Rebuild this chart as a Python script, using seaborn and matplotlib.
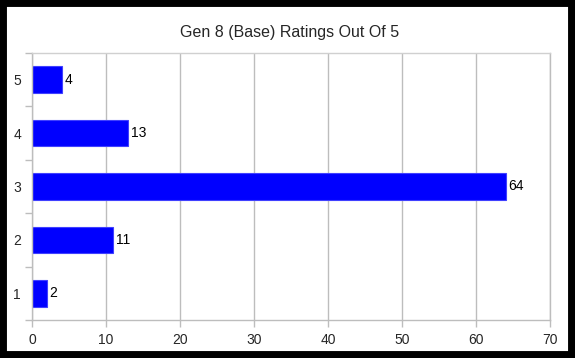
import matplotlib
matplotlib.use('Agg')
import matplotlib.pyplot as plt
import seaborn as sns
import pandas as pd
from matplotlib.patches import Rectangle

# chart data
ratings = ['5', '4', '3', '2', '1']
counts = [4, 13, 64, 11, 2]
x_ticks = [0, 10, 20, 30, 40, 50, 60, 70]
title = 'Gen 8 (Base) Ratings Out Of 5'

df = pd.DataFrame({'rating': ratings, 'count': counts})

sns.set_style('white')
plt.rcParams['font.family'] = ['Liberation Sans', 'DejaVu Sans']

fig = plt.figure(figsize=(5.75, 3.58), dpi=100)
ax = fig.add_axes([32 / 575, 1 - 320 / 358, 518 / 575, 267 / 358])

sns.barplot(data=df, x='count', y='rating', order=ratings, orient='h',
            color='#0000ff', saturation=1, width=0.5,
            edgecolor='#4040ff', linewidth=0.8, ax=ax)

ax.bar_label(ax.containers[0], labels=[str(c) for c in counts],
             padding=2, fontsize=10, color='black')

grid_c = '#bdbdbd'
ax.set_xlim(0, 70)
ax.set_xticks(x_ticks)
ax.set_ylim(4.5, -0.5)
ax.set_yticks(range(len(ratings)))
ax.set_yticks([i - 0.5 for i in range(len(ratings) + 1)], minor=True)
ax.xaxis.grid(True, color=grid_c, linewidth=1)
ax.set_axisbelow(True)
ax.tick_params(axis='x', which='major', length=5, width=1, color=grid_c,
               labelsize=10, pad=4, direction='out', bottom=True)
ax.tick_params(axis='y', which='major', length=0, labelsize=10, pad=8)
ax.tick_params(axis='y', which='minor', length=5, width=1, color=grid_c,
               direction='out', left=True)
for side in ['left', 'bottom', 'top', 'right']:
    ax.spines[side].set_color(grid_c)
    ax.spines[side].set_linewidth(1)
ax.spines['top'].set_color('#d0d0d0')
ax.set_xlabel('')
ax.set_ylabel('')

fig.text(0.504, 1 - 33 / 358, title, ha='center', va='center', fontsize=11.5)

# dark frame around the figure
fig.patches.append(Rectangle((0, 0), 1, 1, transform=fig.transFigure,
                             fill=False, edgecolor='black', linewidth=10))

fig.savefig('out.png', dpi=100)
